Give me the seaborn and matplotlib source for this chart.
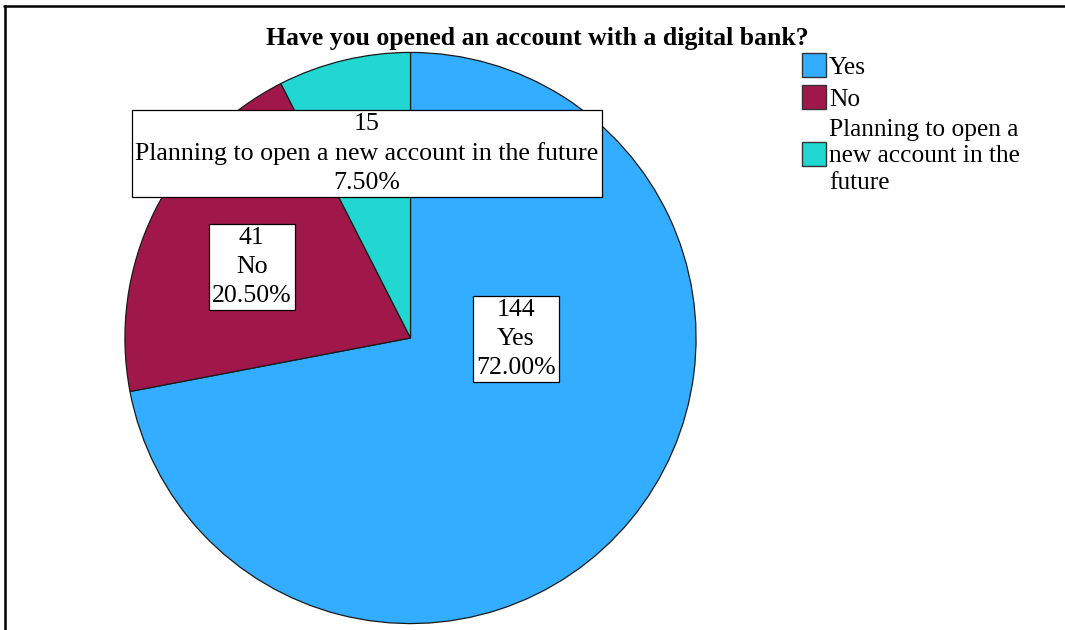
import matplotlib
matplotlib.use("Agg")
import matplotlib.pyplot as plt
from matplotlib.patches import Rectangle
from matplotlib.lines import Line2D
import seaborn as sns

# Survey responses
categories = ["Yes", "No", "Planning to open a new account in the future"]
legend_labels = ["Yes", "No", "Planning to open a\nnew account in the\nfuture"]
counts = [144, 41, 15]
percents = [72.00, 20.50, 7.50]
title = "Have you opened an account with a digital bank?"

sns.set_theme(style="white")
plt.rcParams["font.family"] = ["Liberation Serif", "DejaVu Serif"]

colors = sns.color_palette(["#33adff", "#a0184a", "#22d6d2"])

W, H = 1065, 630
fig = plt.figure(figsize=(W / 100, H / 100), dpi=100)
fig.patch.set_facecolor("white")

# Pie axes: centre (410.5, 338) px, radius 287 px
cx, cy, r = 410.5, 338, 287
ax = fig.add_axes([(cx - r) / W, (H - cy - r) / H, 2 * r / W, 2 * r / H])
wedges, _ = ax.pie(
    counts,
    colors=colors,
    startangle=90,
    counterclock=False,
    radius=1.0,
    wedgeprops=dict(edgecolor="#1a1a1a", linewidth=0.9),
)
ax.set_xlim(-1.005, 1.005)
ax.set_ylim(-1.005, 1.005)
ax.set_aspect("equal")
ax.axis("off")

# Data labels (count, category, percent) in boxes
label_pos = [(0.368, -0.005), (-0.556, 0.249), (-0.153, 0.646)]
for (x, y), n, cat, p in zip(label_pos, counts, categories, percents):
    ax.text(
        x, y, f"{n}\n{cat}\n{p:.2f}%",
        ha="center", va="center", fontsize=18.6, linespacing=1.41,
        color="black",
        bbox=dict(boxstyle="square,pad=0.12", facecolor="white",
                  edgecolor="black", linewidth=0.9),
        zorder=5,
    )

# Title
fig.text(537 / W, 1 - 38 / H, title, ha="center", va="center",
         fontsize=18.5, fontweight="bold", color="black")

# Legend
leg_y = [65, 96.5, 153.5]
for c, lab, y in zip(colors, legend_labels, leg_y):
    fig.patches.append(Rectangle((802 / W, 1 - (y + 12) / H), 24 / W, 24 / H,
                                 transform=fig.transFigure, facecolor=c,
                                 edgecolor="#333333", linewidth=1.0))
    fig.text(829 / W, 1 - (y + 3) / H, lab, ha="left", va="center",
             fontsize=18.3, linespacing=1.28, color="black")

# Frame lines along the top and left edges
fig.add_artist(Line2D([4 / W, 1.0], [1 - 6 / H, 1 - 6 / H], color="black",
                      linewidth=1.8, transform=fig.transFigure))
fig.add_artist(Line2D([5 / W, 5 / W], [0, 1 - 6 / H], color="black",
                      linewidth=1.8, transform=fig.transFigure))

fig.savefig("out.png", dpi=100, facecolor="white")
